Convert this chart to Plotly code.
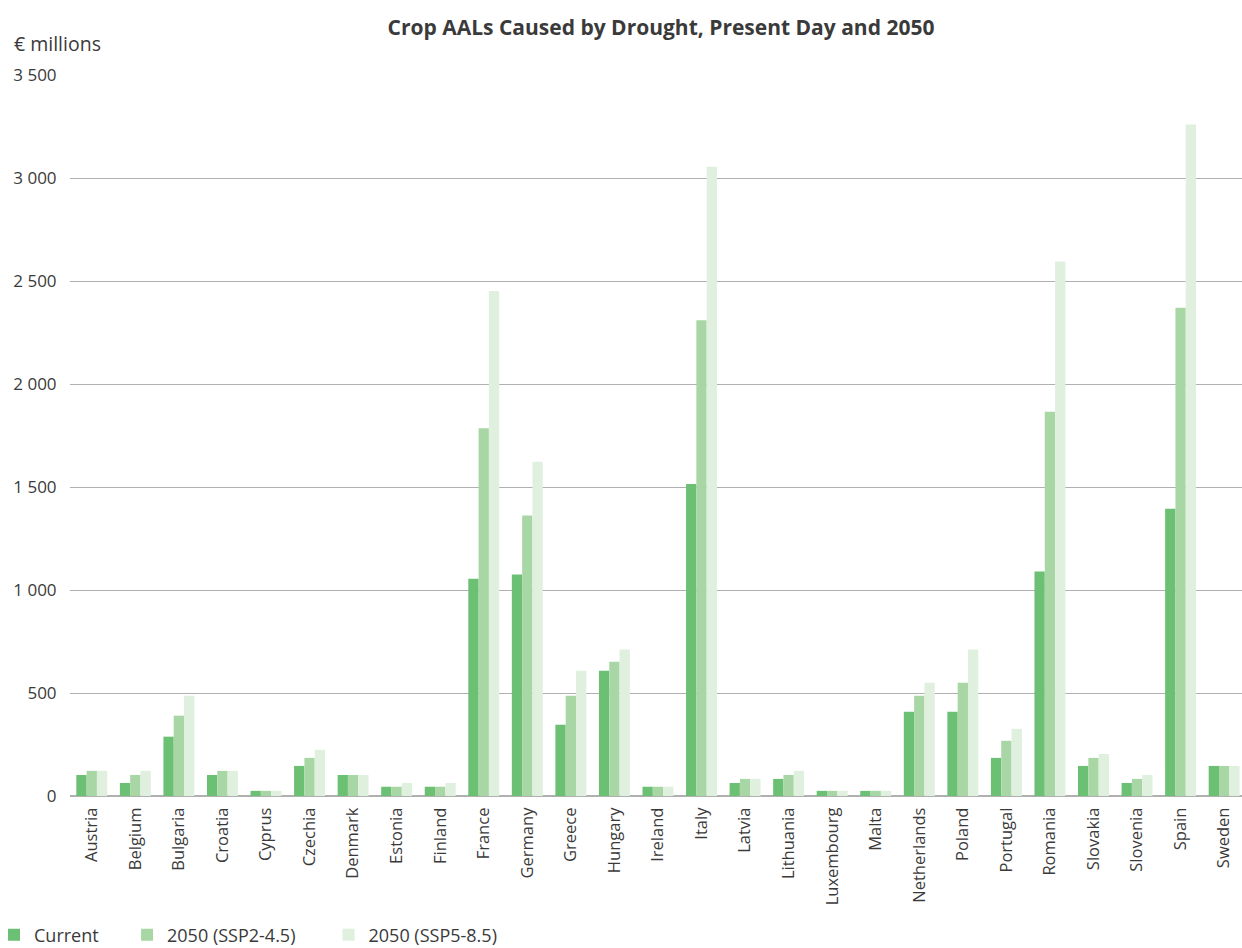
import plotly.graph_objects as go

countries = ["Austria", "Belgium", "Bulgaria", "Croatia", "Cyprus", "Czechia", "Denmark",
             "Estonia", "Finland", "France", "Germany", "Greece", "Hungary", "Ireland",
             "Italy", "Latvia", "Lithuania", "Luxembourg", "Malta", "Netherlands", "Poland",
             "Portugal", "Romania", "Slovakia", "Slovenia", "Spain", "Sweden"]

current = [102, 63, 288, 102, 25, 146, 102, 45, 45, 1055, 1075, 346, 608, 45,
           1515, 63, 83, 25, 25, 409, 409, 185, 1090, 146, 63, 1395, 146]
ssp245 = [122, 102, 390, 122, 25, 185, 102, 45, 45, 1785, 1362, 487, 652, 45,
          2310, 83, 102, 25, 25, 487, 550, 268, 1865, 185, 83, 2370, 146]
ssp585 = [122, 122, 487, 122, 25, 224, 102, 63, 63, 2452, 1622, 608, 711, 45,
          3055, 83, 122, 25, 25, 550, 711, 326, 2595, 204, 102, 3260, 146]

series_names = ["Current", "2050 (SSP2-4.5)", "2050 (SSP5-8.5)"]
legend_pad = [5, 6, 0]
series_colors = ["#6cc074", "#a8d7a5", "#dff0de"]

y_ticks = [0, 500, 1000, 1500, 2000, 2500, 3000, 3500]
y_ticktext = ["0", "500", "1 000", "1 500", "2 000", "2 500", "3 000", "3 500"]

FONT = "Open Sans"
TXT = "#3a3a3a"

fig = go.Figure()
for name, pad, vals, col in zip(series_names, legend_pad, [current, ssp245, ssp585], series_colors):
    fig.add_trace(go.Bar(x=countries, y=vals, name=name + "\u00a0" * pad,
                         marker=dict(color=col, line=dict(width=0))))

W, H = 1242, 948
L, R, T, B = 70, 0, 75, 152
pw, ph = W - L - R, H - T - B

fig.update_layout(
    width=W, height=H,
    margin=dict(l=L, r=R, t=T, b=B, pad=0, autoexpand=False),
    paper_bgcolor="white", plot_bgcolor="white",
    barmode="group", bargap=0.29, bargroupgap=0,
    font=dict(family=FONT, size=17, color=TXT),
    title=dict(text="<b>Crop AALs Caused by Drought, Present Day and 2050</b>",
               x=661 / W, xanchor="center", xref="container",
               y=1 - 28 / H, yanchor="middle", yref="container",
               font=dict(family=FONT, size=21, color=TXT)),
    xaxis=dict(type="category", range=[-0.5, 26.41], tickangle=-90, automargin=False,
               showgrid=False, showline=False, ticks="outside", ticklen=4,
               tickcolor="rgba(0,0,0,0)", zeroline=False,
               tickfont=dict(family=FONT, size=16.5, color=TXT)),
    yaxis=dict(range=[0, 3500], tickvals=y_ticks, ticktext=y_ticktext, automargin=False,
               showgrid=True, gridcolor="#b0b0b0", gridwidth=1.3,
               zeroline=True, zerolinecolor="#b0b0b0", zerolinewidth=1.5,
               showline=False, ticks="outside", ticklen=9, tickcolor="rgba(0,0,0,0)",
               tickfont=dict(family=FONT, size=17, color=TXT)),
    legend=dict(orientation="h", x=(-6 - L) / pw, xanchor="left",
                y=(796 - 935) / ph, yanchor="middle",
                font=dict(family=FONT, size=18, color=TXT),
                itemwidth=30, traceorder="normal"),
    showlegend=True,
)

fig.add_annotation(text="€ millions", xref="paper", yref="paper",
                   x=(12 - L) / pw, y=(796 - 43) / ph, xanchor="left", yanchor="middle",
                   showarrow=False, font=dict(family=FONT, size=19.5, color=TXT))

fig.write_html("out.html", config={"displayModeBar": False},
               post_script="document.body.style.margin='0';document.documentElement.style.overflow='hidden';")
